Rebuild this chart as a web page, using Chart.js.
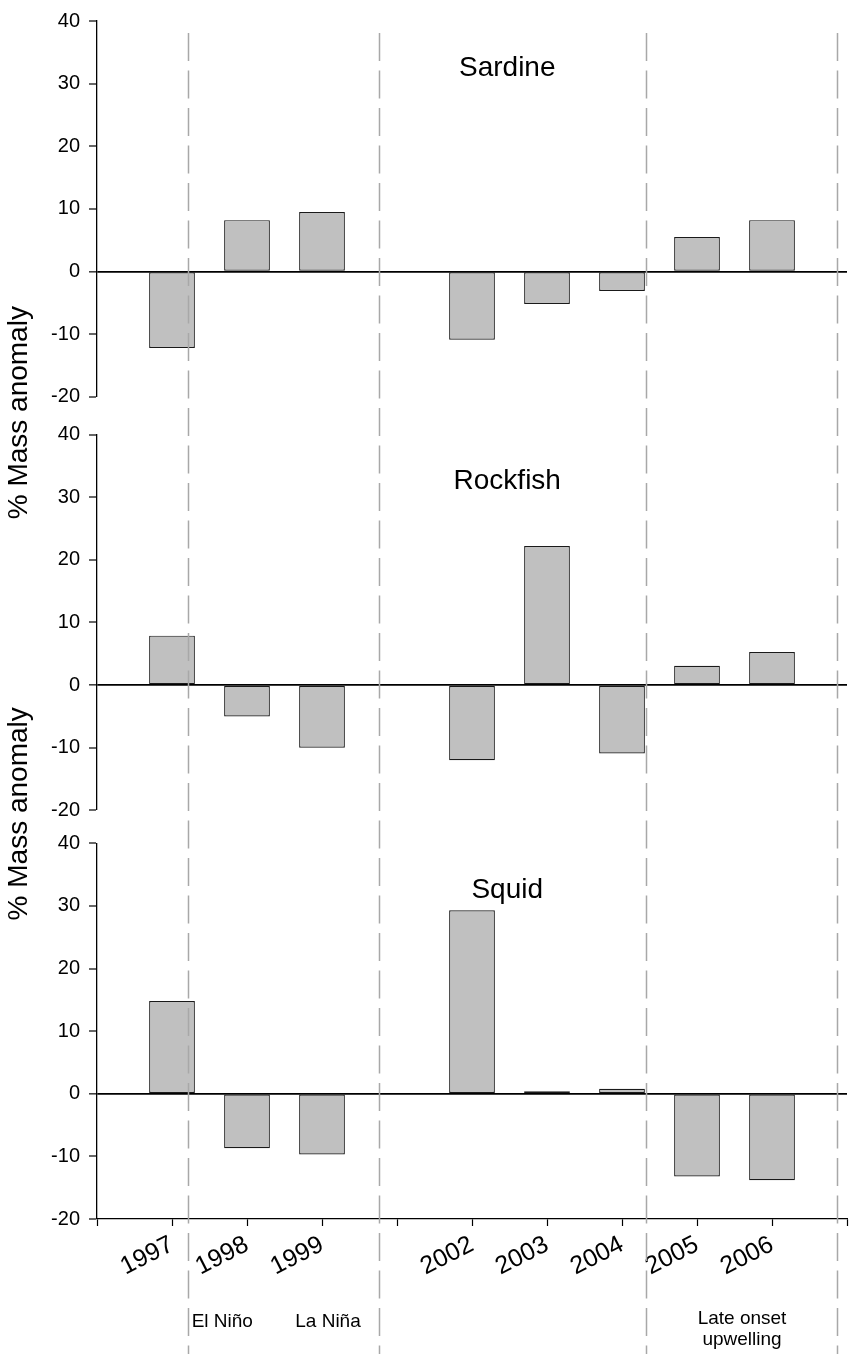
<!DOCTYPE html>
<html>
<head>
<meta charset="utf-8">
<title>% Mass anomaly: Sardine, Rockfish, Squid</title>
<script src="https://cdn.jsdelivr.net/npm/chart.js@4.4.1/dist/chart.umd.min.js"></script>
<style>
  html, body { margin: 0; padding: 0; background: #fff; }
  #wrap { width: 850px; height: 1359px; }
</style>
</head>
<body>
<div id="wrap"><canvas id="chart" width="850" height="1359"></canvas></div>
<script>
// x slots; the blank ones are the axis ends and the skipped 2000-2001 gap
const categories = ['', '1997', '1998', '1999', '', '2002', '2003', '2004', '2005', '2006', ''];

// % mass anomaly per panel
const sardine  = [null, -12.2, 8.2, 9.5, null, -10.9, -5.2, -3.1, 5.5, 8.2, null];
const rockfish = [null, 7.9, -5.0, -10.0, null, -12.0, 22.2, -10.9, 3.1, 5.3, null];
const squid    = [null, 14.8, -8.7, -9.7, null, 29.3, 0.4, 0.8, -13.2, -13.8, null];

const panelNames = ['Sardine', 'Rockfish', 'Squid'];
const yTicks = [-20, -10, 0, 10, 20, 30, 40];

// period boundaries (dashed lines), in x slot units
const periodBounds = [1.21, 3.76, 7.32, 9.87];

const FONT = 'Arial, "Liberation Sans", Helvetica, sans-serif';

function panelAxis(weight) {
  return {
    type: 'linear',
    position: 'left',
    stack: 'panels',
    stackWeight: 377,
    weight,
    min: yTicks[0],
    max: yTicks[yTicks.length - 1],
    afterBuildTicks: (s) => { s.ticks = yTicks.map(v => ({ value: v })); },
    afterFit: (s) => { s.width = 97; },
    border: { display: true, color: '#000', width: 1.3 },
    grid: {
      drawOnChartArea: true,
      drawTicks: true,
      tickLength: 8,
      tickColor: '#000',
      tickWidth: 1.2,
      // only the zero line is drawn across the panel
      color: (c) => (c.tick && c.tick.value === 0 ? '#000' : 'rgba(0,0,0,0)'),
      lineWidth: (c) => (c.tick && c.tick.value === 0 ? 1.7 : 0)
    },
    ticks: { color: '#000', font: { family: FONT, size: 20 }, padding: 9 }
  };
}

// empty axis used only to leave a gap between stacked panels
function spacer(weight, size) {
  return { type: 'linear', position: 'left', stack: 'panels', stackWeight: size, weight, display: false, min: 0, max: 1 };
}

const overlay = {
  id: 'overlay',
  afterDatasetsDraw(chart) {
    const { ctx, chartArea, scales } = chart;
    const x = scales.x;
    ctx.save();

    // dashed period lines run through all panels and the label strip
    ctx.strokeStyle = '#a8a8a8';
    ctx.lineWidth = 1.5;
    ctx.setLineDash([28, 9.5]);
    periodBounds.forEach(v => {
      const px = Math.round(x.getPixelForValue(v)) + 0.5;
      ctx.beginPath();
      ctx.moveTo(px, chartArea.top + 12);
      ctx.lineTo(px, chart.height - 5);
      ctx.stroke();
    });
    ctx.setLineDash([]);

    // panel names
    ctx.fillStyle = '#000';
    ctx.textAlign = 'center';
    ctx.textBaseline = 'middle';
    ctx.font = '28px ' + FONT;
    ['ySardine', 'yRockfish', 'ySquid'].forEach((id, i) => {
      ctx.fillText(panelNames[i], x.getPixelForValue(5.47), scales[id].getPixelForValue(32.5));
    });

    // y titles, sitting on the panel joins like in the original figure
    ctx.font = '28px ' + FONT;
    const joins = [
      (scales.ySardine.bottom + scales.yRockfish.top) / 2 - 3,
      (scales.yRockfish.bottom + scales.ySquid.top) / 2 - 13
    ];
    joins.forEach(cy => {
      ctx.save();
      ctx.translate(19, cy);
      ctx.rotate(-Math.PI / 2);
      ctx.fillText('% Mass anomaly', 0, 0);
      ctx.restore();
    });

    // period names under the axis
    ctx.textBaseline = 'alphabetic';
    ctx.font = '19px ' + FONT;
    const top = x.top;
    ctx.fillText('El Niño', x.getPixelForValue(1.67), top + 108);
    ctx.fillText('La Niña', x.getPixelForValue(3.08), top + 108);
    ctx.fillText('Late onset', x.getPixelForValue(8.6), top + 105);
    ctx.fillText('upwelling', x.getPixelForValue(8.6), top + 126);
    ctx.restore();
  }
};

const barStyle = {
  backgroundColor: '#c0c0c0',
  borderColor: '#1a1a1a',
  borderWidth: 1.2,
  borderSkipped: false,
  categoryPercentage: 1,
  barPercentage: 0.61,
  grouped: false
};

new Chart(document.getElementById('chart'), {
  type: 'bar',
  data: {
    labels: categories,
    datasets: [
      { label: panelNames[0], data: sardine, yAxisID: 'ySardine', ...barStyle },
      { label: panelNames[1], data: rockfish, yAxisID: 'yRockfish', ...barStyle },
      { label: panelNames[2], data: squid, yAxisID: 'ySquid', ...barStyle }
    ]
  },
  options: {
    responsive: false,
    animation: false,
    layout: { padding: { top: 17, right: 3, left: 0, bottom: 0 } },
    plugins: { legend: { display: false }, tooltip: { enabled: false } },
    scales: {
      x: {
        type: 'category',
        offset: false,
        afterFit: (s) => {
          s.height = 140;
          // rotated labels would otherwise pull the right edge in
          s.paddingLeft = 0;
          s.paddingRight = 0;
        },
        border: { display: true, color: '#000', width: 1.3 },
        grid: { offset: false, drawOnChartArea: false, drawTicks: true, tickLength: 7, tickColor: '#000', tickWidth: 1.2 },
        ticks: { autoSkip: false, minRotation: 27, maxRotation: 27, color: '#000', font: { family: FONT, size: 25 }, padding: 4 }
      },
      ySardine: panelAxis(5),
      gap1: spacer(4, 38),
      yRockfish: panelAxis(3),
      gap2: spacer(2, 33),
      ySquid: panelAxis(1)
    }
  },
  plugins: [overlay]
});
</script>
</body>
</html>
